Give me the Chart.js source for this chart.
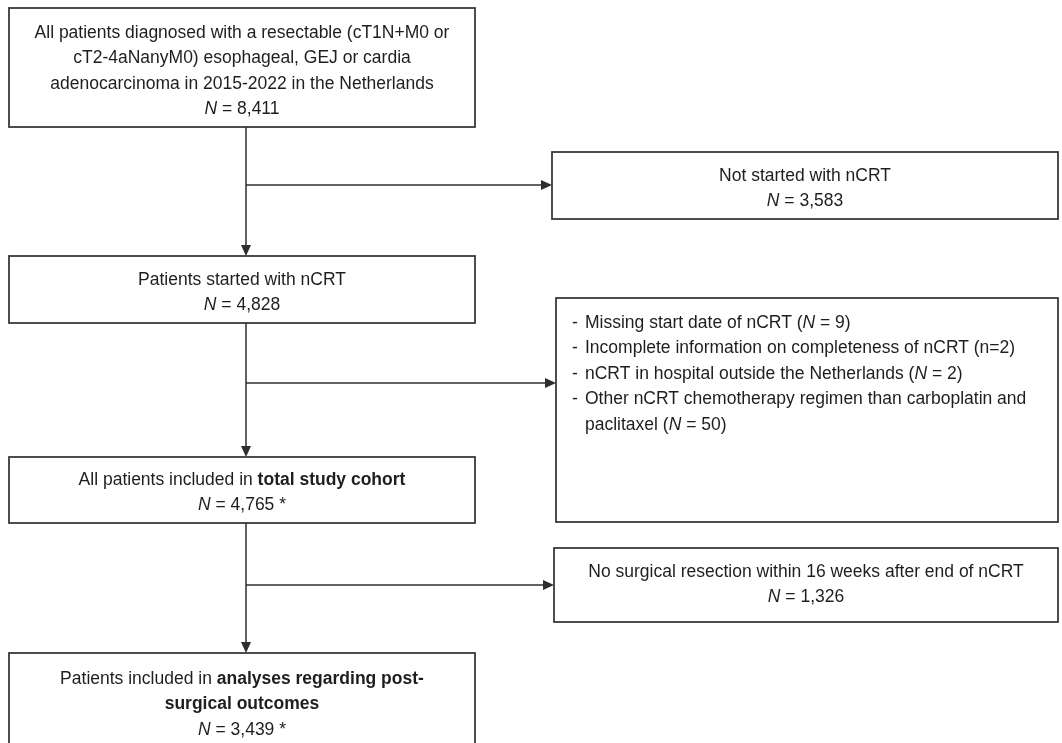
<!DOCTYPE html>
<html>
<head>
<meta charset="utf-8">
<script src="https://cdn.jsdelivr.net/npm/chart.js@4.4.0/dist/chart.umd.min.js"></script>
<style>
    html, body { margin: 0; padding: 0; background: #fff; }
    #flow { display: block; }
</style>
</head>
<body>
<canvas id="flow" width="1062" height="743"></canvas>
<script>
// counts shown in the flow
const cohortCounts = ['8,411', '4,828', '4,765 *', '3,439 *'];
const excludedCounts = ['3,583', '1,326'];
const exclusionCounts = ['9', '2', '2', '50'];

// box texts (main column)
const cohortTitles = [
    [[['All patients diagnosed with a resectable (cT1N+M0 or', '']],
     [['cT2-4aNanyM0) esophageal, GEJ or cardia', '']],
     [['adenocarcinoma in 2015-2022 in the Netherlands', '']]],
    [[['Patients started with nCRT', '']]],
    [[['All patients included in ', ''], ['total study cohort', 'b']]],
    [[['Patients included in ', ''], ['analyses regarding post-', 'b']],
     [['surgical outcomes', 'b']]]
];

// box texts (side boxes)
const excludedTitles = ['Not started with nCRT', 'No surgical resection within 16 weeks after end of nCRT'];

const exclusionReasons = [
    [['Missing start date of nCRT (', ''], ['N', 'i'], [' = ' + exclusionCounts[0] + ')', '']],
    [['Incomplete information on completeness of nCRT (n=' + exclusionCounts[1] + ')', '']],
    [['nCRT in hospital outside the Netherlands (', ''], ['N', 'i'], [' = ' + exclusionCounts[2] + ')', '']],
    [['Other nCRT chemotherapy regimen than carboplatin and', '']],
    [['paclitaxel (', ''], ['N', 'i'], [' = ' + exclusionCounts[3] + ')', '']]
];
const reasonStarts = [true, true, true, true, false];

// layout in canvas units [x0, y0, x1, y1, first text line]
const cohortBoxes = [
    [9, 8, 475, 127, 33],
    [9, 256, 475, 323, 280],
    [9, 457, 475, 523, 480],
    [9, 653, 475, 746, 679]
];
const excludedBoxes = [
    [552, 152, 1058, 219, 176],
    [554, 548, 1058, 622, 572]
];
const reasonBox = [556, 298, 1058, 522, 323];
const spineX = 246;
const branchY = [185, 383, 585];

const LINE_H = 25.5;
const FONT_SIZE = 17.5;
const FONT_FAMILY = '"Liberation Sans", Arial, sans-serif';
const TEXT_COLOR = '#1e1e1e';
const LINE_COLOR = '#2e2e2e';

// N line helper
function nLine(value) {
    return [['N', 'i'], [' = ' + value, '']];
}

function fontFor(style) {
    return (style === 'i' ? 'italic ' : '') + (style === 'b' ? 'bold ' : '') + FONT_SIZE + 'px ' + FONT_FAMILY;
}

function runsWidth(ctx, runs) {
    let w = 0;
    runs.forEach(r => { ctx.font = fontFor(r[1]); w += ctx.measureText(r[0]).width; });
    return w;
}

function drawRuns(ctx, runs, x, y) {
    runs.forEach(r => {
        ctx.font = fontFor(r[1]);
        ctx.fillText(r[0], x, y);
        x += ctx.measureText(r[0]).width;
    });
}

// draw flow chart through the chart scales
const flowPlugin = {
    id: 'flow',
    afterDraw(chart) {
        const ctx = chart.ctx;
        const sx = v => chart.scales.x.getPixelForValue(v);
        const sy = v => chart.scales.y.getPixelForValue(v);

        ctx.save();
        ctx.textBaseline = 'middle';
        ctx.textAlign = 'left';

        // boxes
        const drawBox = b => {
            ctx.strokeStyle = '#3a3a3a';
            ctx.lineWidth = 1.8;
            ctx.strokeRect(sx(b[0]), sy(b[1]), sx(b[2]) - sx(b[0]), sy(b[3]) - sy(b[1]));
        };
        const drawCentered = (b, lines) => {
            const cx = (sx(b[0]) + sx(b[2])) / 2;
            ctx.fillStyle = TEXT_COLOR;
            lines.forEach((runs, i) => {
                const w = runsWidth(ctx, runs);
                drawRuns(ctx, runs, cx - w / 2, sy(b[4] + i * LINE_H));
            });
        };

        cohortBoxes.forEach((b, i) => {
            drawBox(b);
            drawCentered(b, cohortTitles[i].concat([nLine(cohortCounts[i])]));
        });
        excludedBoxes.forEach((b, i) => {
            drawBox(b);
            drawCentered(b, [[[excludedTitles[i], '']], nLine(excludedCounts[i])]);
        });

        drawBox(reasonBox);
        ctx.fillStyle = TEXT_COLOR;
        exclusionReasons.forEach((runs, i) => {
            const y = sy(reasonBox[4] + i * LINE_H);
            if (reasonStarts[i]) {
                ctx.font = fontFor('');
                ctx.fillText('-', sx(reasonBox[0] + 16), y);
            }
            drawRuns(ctx, runs, sx(reasonBox[0] + 29), y);
        });

        // connectors
        ctx.strokeStyle = LINE_COLOR;
        ctx.fillStyle = LINE_COLOR;
        ctx.lineWidth = 1.5;
        const arrow = (x0, y0, x1, y1) => {
            const ang = Math.atan2(sy(y1) - sy(y0), sx(x1) - sx(x0));
            const len = 11, half = 5;
            const bx = sx(x1) - Math.cos(ang) * len, by = sy(y1) - Math.sin(ang) * len;
            ctx.beginPath();
            ctx.moveTo(sx(x0), sy(y0));
            ctx.lineTo(bx, by);
            ctx.stroke();
            ctx.beginPath();
            ctx.moveTo(sx(x1), sy(y1));
            ctx.lineTo(bx - Math.sin(ang) * half, by + Math.cos(ang) * half);
            ctx.lineTo(bx + Math.sin(ang) * half, by - Math.cos(ang) * half);
            ctx.closePath();
            ctx.fill();
        };
        for (let i = 0; i < 3; i++) {
            arrow(spineX, cohortBoxes[i][3], spineX, cohortBoxes[i + 1][1]);
        }
        const branchTargets = [excludedBoxes[0][0], reasonBox[0], excludedBoxes[1][0]];
        branchY.forEach((y, i) => arrow(spineX, y, branchTargets[i], y));

        ctx.restore();
    }
};

// anchor points at box centres so the scales carry the layout
const anchors = cohortBoxes.concat(excludedBoxes, [reasonBox]).map(b => ({
    x: (b[0] + b[2]) / 2,
    y: (b[1] + b[3]) / 2
}));

new Chart(document.getElementById('flow').getContext('2d'), {
    type: 'scatter',
    data: {
        datasets: [{ data: anchors, pointRadius: 0, pointHoverRadius: 0 }]
    },
    options: {
        responsive: false,
        animation: false,
        events: [],
        layout: { padding: 0 },
        plugins: { legend: { display: false }, tooltip: { enabled: false } },
        scales: {
            x: { type: 'linear', min: 0, max: 1062, display: false },
            y: { type: 'linear', min: 0, max: 743, reverse: true, display: false }
        }
    },
    plugins: [flowPlugin]
});
</script>
</body>
</html>
